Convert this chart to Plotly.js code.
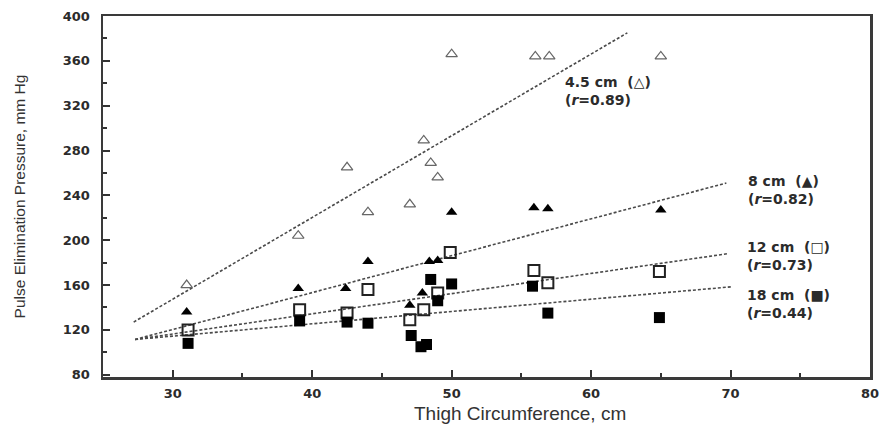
<!DOCTYPE html>
<html>
<head>
<meta charset="utf-8">
<script src="https://cdn.plot.ly/plotly-3.0.1.min.js"></script>
<style>html,body{margin:0;padding:0;background:#fff;}#chart{width:880px;height:425px;}</style>
</head>
<body>
<div id="chart"></div>
<script>
// 4.5 cm cuff (open triangles)
const cuff45X = [31, 39, 42.5, 44, 47, 48, 48.5, 49, 50, 56, 57, 65];
const cuff45Y = [160, 204, 265, 225, 232, 289, 269, 256, 366, 364, 364, 364];
// 8 cm cuff (filled triangles)
const cuff8X = [31, 39, 42.4, 44, 47, 47.9, 48.4, 49, 50, 55.9, 56.9, 65];
const cuff8Y = [136, 157, 157, 181, 142, 153, 181, 182, 225, 229, 228, 227];
// 12 cm cuff (open squares)
const cuff12X = [31.1, 39.1, 42.5, 44, 47, 48, 49, 49.9, 55.9, 56.9, 64.9];
const cuff12Y = [120, 138, 135, 156, 129, 138, 153, 189, 173, 162, 172];
// 18 cm cuff (filled squares)
const cuff18X = [31.1, 39.1, 42.5, 44, 47.1, 47.8, 48.2, 48.5, 49, 50, 55.8, 56.9, 64.9];
const cuff18Y = [108, 128, 127, 126, 115, 105, 107, 165, 146, 161, 159, 135, 131];
// regression lines (end points)
const fit45X = [27.2, 62.6];  const fit45Y = [127, 385];
const fit8X  = [27.3, 69.7];  const fit8Y  = [111.5, 251];
const fit12X = [27.3, 69.8];  const fit12Y = [111.5, 188];
const fit18X = [27.3, 70.1];  const fit18Y = [111.5, 158.5];
// labels
const labelText = [
  "4.5 cm  (△)<br>(<i>r</i>=0.89)",
  "8 cm  (▲)<br>(<i>r</i>=0.82)",
  "12 cm  (□)<br>(<i>r</i>=0.73)",
  "18 cm  (■)<br>(<i>r</i>=0.44)"
];
const xTickVals = [30, 40, 50, 60, 70, 80];
const yTickVals = [80, 120, 160, 200, 240, 280, 320, 360, 400];

const ink = '#2b2b2b';
const lineStyle = {color: '#4a4a4a', width: 1.6, dash: '3px,2px'};

const traces = [
  {x: fit45X, y: fit45Y, mode: 'lines', line: lineStyle, hoverinfo: 'skip'},
  {x: fit8X, y: fit8Y, mode: 'lines', line: lineStyle, hoverinfo: 'skip'},
  {x: fit12X, y: fit12Y, mode: 'lines', line: lineStyle, hoverinfo: 'skip'},
  {x: fit18X, y: fit18Y, mode: 'lines', line: lineStyle, hoverinfo: 'skip'},
  {x: cuff45X, y: cuff45Y, mode: 'markers', name: '4.5 cm',
   marker: {symbol: 'triangle-up-open', size: 10, color: '#666', line: {width: 1.2, color: '#666'}}},
  {x: cuff8X, y: cuff8Y, mode: 'markers', name: '8 cm',
   marker: {symbol: 'triangle-up', size: 10, color: '#000', line: {width: 0}}},
  {x: cuff12X, y: cuff12Y, mode: 'markers', name: '12 cm',
   marker: {symbol: 'square-open', size: 11, color: '#222', line: {width: 2, color: '#222'}}},
  {x: cuff18X, y: cuff18Y, mode: 'markers', name: '18 cm',
   marker: {symbol: 'square', size: 11, color: '#000', line: {width: 0}}}
];

const labelPos = [
  {x: 58.0, y: 333},
  {x: 71.1, y: 245},
  {x: 71.05, y: 186},
  {x: 71.05, y: 143}
];

const annotations = labelText.map((t, i) => ({
  x: labelPos[i].x, y: labelPos[i].y, xref: 'x', yref: 'y',
  text: t, showarrow: false, xanchor: 'left', yanchor: 'middle', align: 'left',
  font: {family: 'DejaVu Sans', size: 14, color: ink, weight: 'bold'}
}));
annotations.push({
  x: 0.544, y: 0, xref: 'paper', yref: 'paper', yshift: -36,
  text: 'Thigh Circumference, cm', showarrow: false, xanchor: 'center', yanchor: 'middle',
  font: {family: 'Liberation Sans', size: 19, color: '#333'}
});

const layout = {
  width: 880, height: 425,
  margin: {l: 103, r: 10, t: 16, b: 48},
  showlegend: false,
  paper_bgcolor: '#fff', plot_bgcolor: '#fff',
  xaxis: {
    range: [25, 80], tickvals: xTickVals, ticks: 'inside', ticklen: 7, tickwidth: 2, tickcolor: '#333',
    minor: {dtick: 5, tick0: 25, ticks: 'inside', ticklen: 4, tickwidth: 2, tickcolor: '#333', showgrid: false},
    showgrid: false, zeroline: false, showline: true, linecolor: '#3a3a3a', linewidth: 2.5, mirror: true,
    tickfont: {family: 'DejaVu Sans', size: 13, color: ink, weight: 'bold'}, ticklabelstandoff: 3,
    ticklabeloverflow: 'allow'
  },
  yaxis: {
    range: [78, 400], tickvals: yTickVals, ticks: 'inside', ticklen: 7, tickwidth: 2, tickcolor: '#333',
    minor: {dtick: 20, tick0: 80, ticks: 'inside', ticklen: 4, tickwidth: 2, tickcolor: '#333', showgrid: false},
    showgrid: false, zeroline: false, showline: true, linecolor: '#3a3a3a', linewidth: 2.5, mirror: true,
    tickfont: {family: 'DejaVu Sans', size: 13, color: ink, weight: 'bold'}, ticklabelstandoff: 8,
    title: {text: 'Pulse Elimination Pressure, mm Hg', standoff: 34,
            font: {family: 'Liberation Sans', size: 15.5, color: '#333'}}
  },
  annotations: annotations
};

Plotly.newPlot('chart', traces, layout, {displayModeBar: false, staticPlot: true});
</script>
</body>
</html>
